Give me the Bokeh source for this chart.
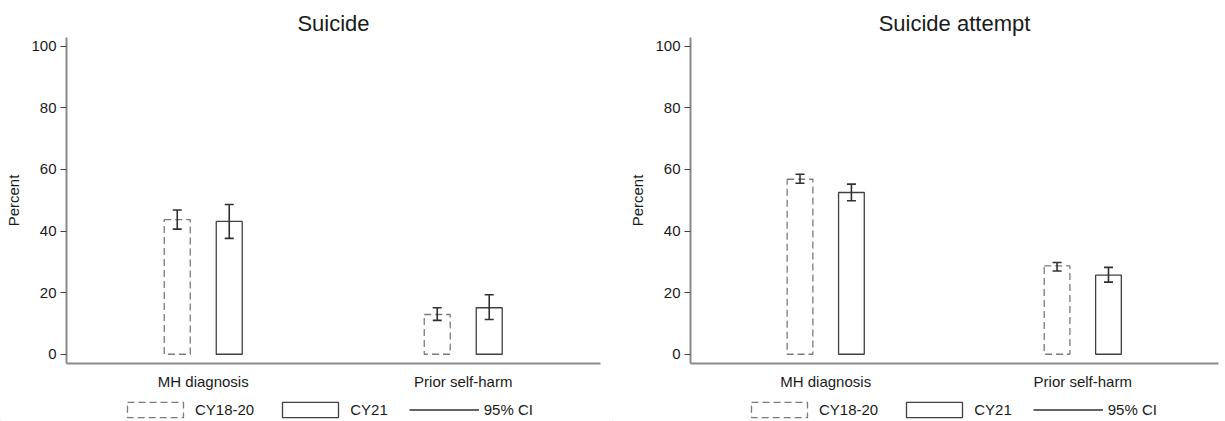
import numpy as np
from bokeh.plotting import figure
from bokeh.layouts import row, column
from bokeh.models import (ColumnDataSource, Whisker, TeeHead, Legend, LegendItem,
                          FixedTicker, Range1d)
from bokeh.embed import file_html
from bokeh.resources import INLINE

# ---------------- data ----------------
categories = ["MH diagnosis", "Prior self-harm"]
periods = ["CY18-20", "CY21"]

suicide_cy1820 = [43.7, 12.9]
suicide_cy1820_lo = [40.6, 11.0]
suicide_cy1820_hi = [46.8, 15.1]
suicide_cy21 = [43.1, 15.1]
suicide_cy21_lo = [37.6, 11.3]
suicide_cy21_hi = [48.6, 19.3]

attempt_cy1820 = [56.8, 28.7]
attempt_cy1820_lo = [55.5, 27.0]
attempt_cy1820_hi = [58.4, 29.8]
attempt_cy21 = [52.5, 25.7]
attempt_cy21_lo = [49.8, 23.4]
attempt_cy21_hi = [55.2, 28.2]

y_ticks = [0, 20, 40, 60, 80, 100]

FONT = "Liberation Sans"
TXT = "#1a1a1a"
DASH_STYLE = dict(fill_color="white", line_color="#7a7a7a", line_width=1.3, line_dash="7 4")
SOLID_STYLE = dict(fill_color="white", line_color="#404040", line_width=1.3)
CI_COLOR = "#303030"


def make_panel(title, v1, lo1, hi1, v2, lo2, hi2, width, border_left, border_right):
    idx = np.arange(len(categories), dtype=float)
    off = 0.1
    bw = 0.1
    s1 = ColumnDataSource(dict(x=idx - off, top=v1, lo=lo1, hi=hi1))
    s2 = ColumnDataSource(dict(x=idx + off, top=v2, lo=lo2, hi=hi2))

    p = figure(width=width, height=392, output_backend="svg", toolbar_location=None,
               x_range=Range1d(-0.526, 1.528), y_range=Range1d(-3.0, 102.8),
               min_border_left=border_left, min_border_right=border_right,
               min_border_top=37, min_border_bottom=26)
    p.title.text = title
    p.title.align = "center"
    p.title.text_font = FONT
    p.title.text_font_size = "22px"
    p.title.text_font_style = "normal"
    p.title.text_color = TXT
    p.title.standoff = 4

    p.grid.visible = False
    p.outline_line_color = None
    p.background_fill_color = "white"

    p.vbar(x="x", top="top", bottom=0, width=bw, source=s1, **DASH_STYLE)
    p.vbar(x="x", top="top", bottom=0, width=bw, source=s2, **SOLID_STYLE)

    for s in (s1, s2):
        w = Whisker(base="x", lower="lo", upper="hi", source=s, level="overlay",
                    line_color=CI_COLOR, line_width=1.6,
                    upper_head=TeeHead(size=9, line_color=CI_COLOR, line_width=1.6),
                    lower_head=TeeHead(size=9, line_color=CI_COLOR, line_width=1.6))
        p.add_layout(w)

    # axes
    p.yaxis.ticker = FixedTicker(ticks=y_ticks)
    p.yaxis.axis_label = "Percent"
    p.yaxis.axis_label_text_font = FONT
    p.yaxis.axis_label_text_font_size = "15px"
    p.yaxis.axis_label_text_font_style = "normal"
    p.yaxis.axis_label_text_color = TXT
    p.yaxis.axis_label_standoff = 6
    p.yaxis.major_label_text_font = FONT
    p.yaxis.major_label_text_font_size = "15px"
    p.yaxis.major_label_text_color = TXT
    p.yaxis.major_label_standoff = 4
    p.yaxis.axis_line_color = "#8a8a8a"
    p.yaxis.axis_line_width = 2
    p.yaxis.major_tick_line_color = "#404040"
    p.yaxis.major_tick_out = 6
    p.yaxis.major_tick_in = 0
    p.yaxis.minor_tick_line_color = None

    p.xaxis.ticker = FixedTicker(ticks=list(range(len(categories))))
    p.xaxis.major_label_overrides = {i: c for i, c in enumerate(categories)}
    p.xaxis.major_label_text_font = FONT
    p.xaxis.major_label_text_font_size = "15px"
    p.xaxis.major_label_text_color = TXT
    p.xaxis.major_label_standoff = 3
    p.xaxis.axis_line_color = "#8a8a8a"
    p.xaxis.axis_line_width = 2
    p.xaxis.major_tick_line_color = None
    p.xaxis.minor_tick_line_color = None
    return p


def make_legend(width, x_offset):
    # legend-only strip: its sample renderers sit outside the visible range
    lf = figure(width=width, height=29, output_backend="svg", toolbar_location=None,
                x_range=Range1d(0, 1), y_range=Range1d(0, 1),
                x_axis_location=None, y_axis_location=None,
                min_border_left=0, min_border_right=0, min_border_top=0,
                min_border_bottom=0)
    lf.grid.visible = False
    lf.outline_line_color = None
    hidden = ColumnDataSource(dict(x=[-5.0], top=[-5.0], x1=[-4.0]))
    r1 = lf.vbar(x="x", top="top", bottom=-6, width=0.1, source=hidden, **DASH_STYLE)
    r2 = lf.vbar(x="x", top="top", bottom=-6, width=0.1, source=hidden, **SOLID_STYLE)
    ci = lf.segment(x0="x", y0="top", x1="x1", y1="top", source=hidden,
                    line_color=CI_COLOR, line_width=1.6)
    legend = Legend(items=[LegendItem(label=periods[0], renderers=[r1]),
                           LegendItem(label=periods[1], renderers=[r2]),
                           LegendItem(label="95% CI", renderers=[ci])],
                    orientation="horizontal", location=(x_offset, 2),
                    glyph_width=70, glyph_height=19, label_height=19,
                    label_standoff=5, spacing=21, padding=0, margin=0,
                    border_line_color=None, background_fill_alpha=0,
                    label_text_font=FONT, label_text_font_size="15px",
                    label_text_color=TXT)
    lf.add_layout(legend, "center")
    return lf


p1 = make_panel("Suicide", suicide_cy1820, suicide_cy1820_lo, suicide_cy1820_hi,
                suicide_cy21, suicide_cy21_lo, suicide_cy21_hi,
                width=612, border_left=66, border_right=12)
p2 = make_panel("Suicide attempt", attempt_cy1820, attempt_cy1820_lo, attempt_cy1820_hi,
                attempt_cy21, attempt_cy21_lo, attempt_cy21_hi,
                width=609, border_left=78, border_right=3)
l1 = make_legend(612, 120)
l2 = make_legend(609, 132)

layout = column(row(p1, p2), row(l1, l2))
open("out.html", "w").write(file_html(layout, INLINE))
